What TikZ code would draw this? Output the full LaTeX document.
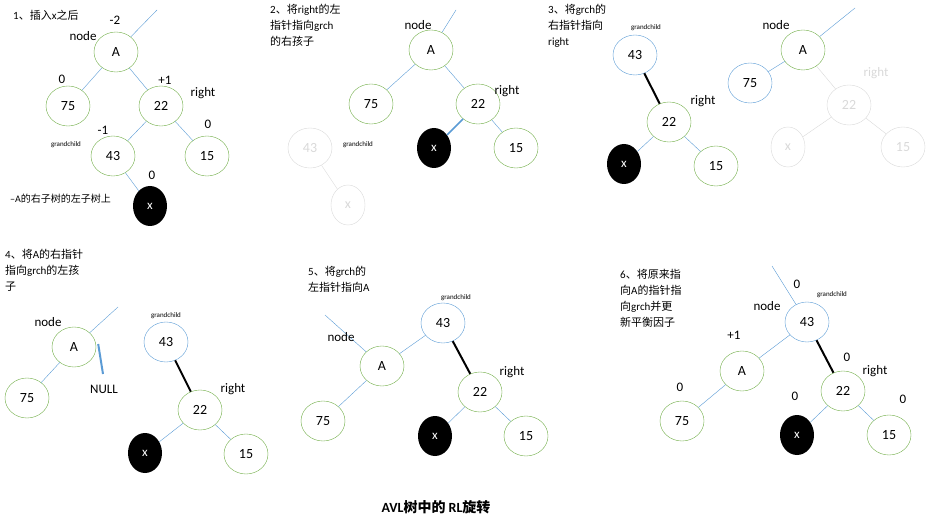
\documentclass[tikz,border=0pt]{standalone}
\usepackage{fontspec}
\setmainfont{Carlito}
\newfontfamily\cjk{Noto Sans CJK SC}
\usetikzlibrary{shapes.geometric}
\definecolor{tgreen}{RGB}{112,173,71}
\definecolor{tblue}{RGB}{91,155,213}
\definecolor{tgray}{RGB}{217,217,217}
\tikzset{
  gnode/.style={ellipse,draw=tgreen,minimum width=44pt,minimum height=40pt,inner sep=0pt,font=\fontsize{14}{16}\selectfont},
  bnode/.style={gnode,draw=tblue},
  xnode/.style={ellipse,fill=black,text=white,minimum width=34pt,minimum height=40pt,inner sep=0pt,font=\fontsize{13}{15}\selectfont},
  fnode/.style={gnode,draw=tgray,text=tgray},
  edge/.style={tblue,thin},
  ptr/.style={black,line width=2pt},
  fedge/.style={tgray,thin},
  lbl/.style={font=\fontsize{13}{15}\selectfont,inner sep=0pt},
  tiny/.style={font=\fontsize{7}{8}\selectfont,inner sep=0pt},
  step txt/.style={font=\fontsize{11}{16}\selectfont,align=left,anchor=north west,inner sep=0pt}
}
\begin{document}
\begin{tikzpicture}[x=1pt,y=-1pt]
\useasboundingbox (0,0) rectangle (942,521);

% panel 1
\node[step txt] (t1) at (13,10) {1{\cjk 、插入}x{\cjk 之后}};
\node[gnode] (a1) at (116,52) {A};
\node[gnode] (s1) at (68,106) {75};
\node[gnode] (r1) at (161,106) {22};
\node[gnode] (g1) at (113,156) {43};
\node[gnode] (f1) at (207,156) {15};
\node[xnode] (x1) at (150,206) {x};
\coordinate (p1) at (157,10);
\draw[edge] (a1) -- (p1);
\draw[edge] (a1) -- (s1);
\draw[edge] (a1) -- (r1);
\draw[edge] (r1) -- (g1);
\draw[edge] (r1) -- (f1);
\draw[edge] (g1) -- (x1);
\node[lbl] at (115,20) {-2};
\node[lbl] at (83,36) {node};
\node[lbl] at (62,79) {0};
\node[lbl] at (165,80) {+1};
\node[lbl] at (203,93) {right};
\node[lbl] at (103,130) {-1};
\node[tiny] at (66,145) {grandchild};
\node[lbl] at (208,124) {0};
\node[lbl] at (152,175) {0};
\node[inner sep=0pt,anchor=west,font=\fontsize{10}{12}\selectfont] at (10,199) {--A{\cjk 的右子树的左子树上}};

% panel 2
\node[step txt] (t2) at (270,4) {2{\cjk 、将}right{\cjk 的左}\\{\cjk 指针指向}grch\\{\cjk 的右孩子}};
\node[gnode] (a2) at (431,50) {A};
\node[gnode] (s2) at (371,104) {75};
\node[gnode] (r2) at (478,104) {22};
\node[xnode] (x2) at (434,148) {x};
\node[gnode] (f2) at (516,148) {15};
\node[fnode] (g2) at (310,148) {43};
\node[fnode,minimum width=34pt] (y2) at (348,205) {x};
\coordinate (p2) at (456,10);
\draw[edge] (a2) -- (p2);
\draw[edge] (a2) -- (s2);
\draw[edge] (a2) -- (r2);
\draw[edge,line width=1.5pt] (r2) -- (x2);
\draw[edge] (r2) -- (f2);
\draw[fedge] (g2) -- (y2);
\node[lbl] at (418,25) {node};
\node[lbl] at (507,91) {right};
\node[tiny] at (358,145) {grandchild};

% panel 3
\node[step txt] (t3) at (548,4) {3{\cjk 、将}grch{\cjk 的}\\{\cjk 右指针指向}\\right};
\node[bnode] (g3) at (635,55) {43};
\node[gnode] (r3) at (669,122) {22};
\node[xnode] (x3) at (624,164) {x};
\node[gnode] (f3) at (716,166) {15};
\draw[ptr] (g3) -- (r3);
\draw[edge] (r3) -- (x3);
\draw[edge] (r3) -- (f3);
\node[tiny] at (646,28) {grandchild};
\node[lbl] at (703,101) {right};
\node[gnode] (a3) at (803,50) {A};
\node[bnode] (s3) at (750,83) {75};
\node[fnode] (r3b) at (849,105) {22};
\node[fnode,minimum width=34pt] (x3b) at (788,147) {x};
\node[fnode] (f3b) at (903,147) {15};
\coordinate (p3) at (855,8);
\draw[edge] (a3) -- (p3);
\draw[edge] (a3) -- (s3);
\draw[fedge] (a3) -- (r3b);
\draw[fedge] (r3b) -- (x3b);
\draw[fedge] (r3b) -- (f3b);
\node[lbl] at (776,25) {node};
\node[lbl,text=tgray] at (876,73) {right};

% panel 4
\node[step txt] (t4) at (5,249) {4{\cjk 、将}A{\cjk 的右指针}\\{\cjk 指向}grch{\cjk 的左孩}\\{\cjk 子}};
\node[gnode] (a4) at (74,347) {A};
\node[gnode] (s4) at (27,398) {75};
\coordinate (p4) at (118,307);
\coordinate (n4) at (103,374);
\draw[edge] (a4) -- (p4);
\draw[edge] (a4) -- (s4);
\draw[tblue,line width=2pt] (a4.east) ++(2,-3) -- (n4);
\node[lbl] at (48,322) {node};
\node[lbl] at (104,389) {NULL};
\node[bnode] (g4) at (166,342) {43};
\node[gnode] (r4) at (200,410) {22};
\node[xnode] (x4) at (145,453) {x};
\node[gnode] (f4) at (246,454) {15};
\draw[ptr] (g4) -- (r4);
\draw[edge] (r4) -- (x4);
\draw[edge] (r4) -- (f4);
\node[tiny] at (166,316) {grandchild};
\node[lbl] at (233,389) {right};

% panel 5
\node[step txt] (t5) at (308,266) {5{\cjk 、将}grch{\cjk 的}\\{\cjk 左指针指向}A};
\node[bnode] (g5) at (443,323) {43};
\node[gnode] (a5) at (382,366) {A};
\node[gnode] (s5) at (323,421) {75};
\node[gnode] (r5) at (480,392) {22};
\node[xnode] (x5) at (435,436) {x};
\node[gnode] (f5) at (526,436) {15};
\coordinate (p5) at (325,315);
\draw[edge] (a5) -- (p5);
\draw[edge] (g5) -- (a5);
\draw[edge] (a5) -- (s5);
\draw[ptr] (g5) -- (r5);
\draw[edge] (r5) -- (x5);
\draw[edge] (r5) -- (f5);
\node[tiny] at (456,298) {grandchild};
\node[lbl] at (341,337) {node};
\node[lbl] at (512,372) {right};

% panel 6
\node[step txt] (t6) at (620,269) {6{\cjk 、将原来指}\\{\cjk 向}A{\cjk 的指针指}\\{\cjk 向}grch{\cjk 并更}\\{\cjk 新平衡因子}};
\node[bnode] (g6) at (807,322) {43};
\node[gnode] (a6) at (742,371) {A};
\node[gnode] (s6) at (682,421) {75};
\node[gnode] (r6) at (843,391) {22};
\node[xnode] (x6) at (797,435) {x};
\node[gnode] (f6) at (889,435) {15};
\coordinate (p6) at (772,266);
\draw[edge] (g6) -- (p6);
\draw[edge] (g6) -- (a6);
\draw[edge] (a6) -- (s6);
\draw[ptr] (g6) -- (r6);
\draw[edge] (r6) -- (x6);
\draw[edge] (r6) -- (f6);
\node[lbl] at (797,284) {0};
\node[tiny] at (832,295) {grandchild};
\node[lbl] at (767,306) {node};
\node[lbl] at (734,335) {+1};
\node[lbl] at (680,387) {0};
\node[lbl] at (847,357) {0};
\node[lbl] at (875,371) {right};
\node[lbl] at (795,396) {0};
\node[lbl] at (903,399) {0};

\node[font=\fontsize{14}{16}\selectfont\bfseries] (title) at (436,507) {AVL{\cjk\bfseries 树中的} RL{\cjk\bfseries 旋转}};
\end{tikzpicture}
\end{document}
